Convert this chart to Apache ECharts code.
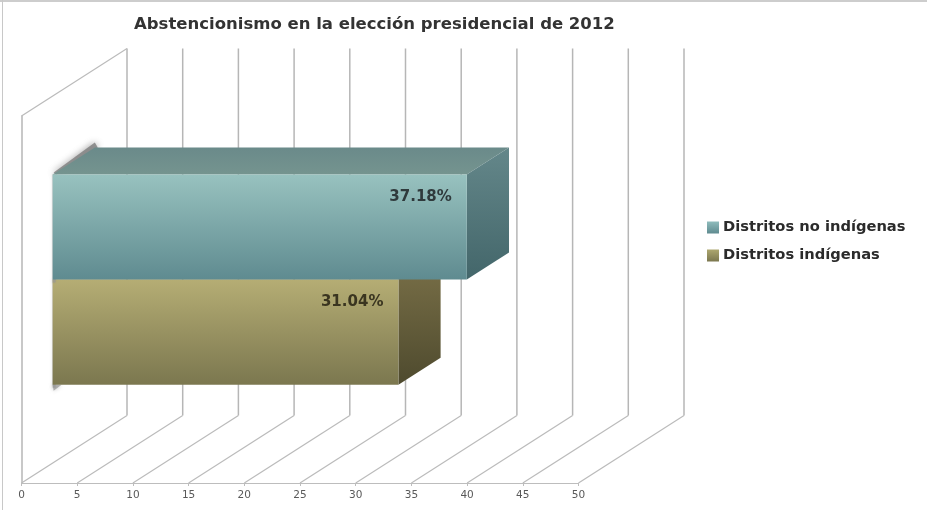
<!DOCTYPE html>
<html>
<head>
<meta charset="utf-8">
<title>Abstencionismo</title>
<style>html,body{margin:0;padding:0;background:#fff}#c{width:927px;height:510px}</style>
<script src="https://cdn.jsdelivr.net/npm/echarts@6/dist/echarts.min.js"></script>
</head>
<body>
<div id="c"></div>
<script>
const chartTitle = 'Abstencionismo en la elección presidencial de 2012';
const categories = ['2012'];
const seriesNames = ['Distritos no indígenas', 'Distritos indígenas'];
const noIndigenas = [37.18];
const indigenas = [31.04];
const tickValues = [0, 5, 10, 15, 20, 25, 30, 35, 40, 45, 50];

// Oblique projection: how far the back wall sits from the front plane.
const DEPTH = [105.5, -67.5];
// Portion of the depth occupied by the bars.
const BAR_NEAR = 0.295;
const BAR_FAR = 0.695;
// Bar thickness as a share of the category band.
const BAR_SHARE = 0.2865;

const vGrad = (a, b) => new echarts.graphic.LinearGradient(0, 0, 0, 1, [
  { offset: 0, color: a }, { offset: 1, color: b }
]);

const palettes = [
  { front: ['#98c2bf', '#5f8b90'], top: ['#6a8a8a', '#75948f'], side: ['#64878a', '#43666a'], label: '#2f3a3c' },
  { front: ['#b5ad74', '#7b774f'], top: ['#8a8458', '#8a8458'], side: ['#7c7249', '#4e4a2e'], label: '#3a3520' }
];

// Back-wall verticals, floor diagonals and the slanted top of the side wall.
function renderWalls(params, api) {
  const tick = api.value(0);
  const p = api.coord([tick, 0]);
  const band = api.size([0, 1])[1];
  const bottom = p[1] + band / 2;
  const top = p[1] - band / 2;
  const bx = p[0] + DEPTH[0];
  const children = [
    { type: 'line', shape: { x1: bx, y1: top + DEPTH[1], x2: bx, y2: bottom + DEPTH[1] },
      style: { stroke: '#b6b6b6', lineWidth: 1.5 } },
    { type: 'line', shape: { x1: p[0], y1: bottom, x2: bx, y2: bottom + DEPTH[1] },
      style: { stroke: '#bbbbbb', lineWidth: 1.2 } }
  ];
  if (tick === 0) {
    children.push({ type: 'line', shape: { x1: p[0], y1: top, x2: bx, y2: top + DEPTH[1] },
      style: { stroke: '#bbbbbb', lineWidth: 1.2 } });
  }
  return { type: 'group', children };
}

// A box with front, top and right faces, stacked around the band centre.
function renderBar(slot) {
  return function (params, api) {
    const pal = palettes[slot];
    const end = api.coord([api.value(0), 0]);
    const base = api.coord([0, 0]);
    const h = api.size([0, 1])[1] * BAR_SHARE;
    const nx = DEPTH[0] * BAR_NEAR, ny = DEPTH[1] * BAR_NEAR;
    const fx = DEPTH[0] * (BAR_FAR - BAR_NEAR), fy = DEPTH[1] * (BAR_FAR - BAR_NEAR);
    const y0 = end[1] + ny + (slot === 0 ? -h : 0);
    const y1 = y0 + h;
    const x0 = base[0] + nx;
    const x1 = end[0] + nx;
    const poly = (points, fill, extra) => ({
      type: 'polygon', shape: { points }, style: Object.assign({ fill }, extra || {})
    });
    const children = [];
    // Soft shading along the hidden left face.
    const soft = { shadowBlur: 7, shadowColor: 'rgba(110,110,110,0.9)' };
    children.push(poly([[x0, y0], [x0 + 3, y0], [x0 + 3, y1 + 3], [x0, y1 + 3]], 'rgba(150,150,150,0.6)', { shadowBlur: 3, shadowColor: 'rgba(140,140,140,0.6)' }));
    if (slot === 0) {
      children.push(poly([[x0 + 1, y0 - 2], [x0 + fx, y0 + fy - 5], [x0 + fx + 3, y0 + fy], [x0 + 4, y0]], 'rgba(125,125,125,0.8)', soft));
    } else {
      children.push(poly([[x0, y1], [x0 + 9, y1], [x0 + 1, y1 + 6]], 'rgba(150,150,150,0.7)', { shadowBlur: 4, shadowColor: 'rgba(140,140,140,0.7)' }));
    }
    children.push(poly([[x0, y0], [x0 + fx, y0 + fy], [x1 + fx, y0 + fy], [x1, y0]], vGrad(pal.top[0], pal.top[1])));
    children.push(poly([[x1, y0], [x1 + fx, y0 + fy], [x1 + fx, y1 + fy], [x1, y1]], vGrad(pal.side[0], pal.side[1])));
    children.push({ type: 'rect', shape: { x: x0, y: y0, width: x1 - x0, height: h },
      style: { fill: vGrad(pal.front[0], pal.front[1]) } });
    children.push({ type: 'text', style: {
      x: x1 - 15, y: y0 + 23, text: api.value(0).toFixed(2) + '%',
      fill: pal.label, font: 'bold 15px "DejaVu Sans"', align: 'right', verticalAlign: 'middle'
    } });
    return { type: 'group', children };
  };
}

const chart = echarts.init(document.getElementById('c'), null, { renderer: 'canvas' });
chart.setOption({
  animation: false,
  backgroundColor: '#fff',
  title: {
    text: chartTitle, left: 134, top: 16, padding: 0,
    textStyle: { fontFamily: 'DejaVu Sans', fontWeight: 'bold', fontSize: 16.5, color: '#333' }
  },
  legend: {
    orient: 'vertical', left: 707, top: 220, padding: 0, itemGap: 13,
    itemWidth: 12, itemHeight: 12, icon: 'rect',
    data: seriesNames, selectedMode: false,
    textStyle: { fontFamily: 'DejaVu Sans', fontWeight: 'bold', fontSize: 14.7, color: '#2b2b2b', padding: [0, 0, 0, -1] }
  },
  grid: { left: 21.5, top: 116, width: 557, height: 367 },
  xAxis: {
    type: 'value', min: 0, max: 50, interval: 5,
    splitLine: { show: false },
    axisLine: { show: true, lineStyle: { color: '#bdbdbd', width: 1 } },
    axisTick: { show: true, length: 3, lineStyle: { color: '#bdbdbd' } },
    axisLabel: { margin: 7, fontFamily: 'DejaVu Sans', fontSize: 10.5, color: '#595959',
      formatter: v => String(tickValues[tickValues.indexOf(v)]) }
  },
  yAxis: {
    type: 'category', data: categories,
    axisLine: { show: true, lineStyle: { color: '#b6b6b6', width: 1.5 } },
    axisTick: { show: false }, axisLabel: { show: false }, splitLine: { show: false }
  },
  graphic: [
    { type: 'line', silent: true, shape: { x1: 0, y1: 1, x2: 927, y2: 1 }, style: { stroke: '#bdbdbd', lineWidth: 1.5 } },
    { type: 'line', silent: true, shape: { x1: 2.5, y1: 0, x2: 2.5, y2: 510 }, style: { stroke: '#c8c8c8', lineWidth: 1 } }
  ],
  series: [
    { type: 'custom', name: 'walls', silent: true, z: 1, renderItem: renderWalls,
      data: tickValues.map(t => [t, 0]), encode: { x: 0, y: 1 } },
    { type: 'custom', name: seriesNames[0], silent: true, z: 4, renderItem: renderBar(0),
      itemStyle: { color: vGrad('#8fbcbc', '#5f8b90') },
      data: noIndigenas.map(v => [v, 0]), encode: { x: 0, y: 1 } },
    { type: 'custom', name: seriesNames[1], silent: true, z: 3, renderItem: renderBar(1),
      itemStyle: { color: vGrad('#ada76f', '#7b774f') },
      data: indigenas.map(v => [v, 0]), encode: { x: 0, y: 1 } }
  ]
});
</script>
</body>
</html>
